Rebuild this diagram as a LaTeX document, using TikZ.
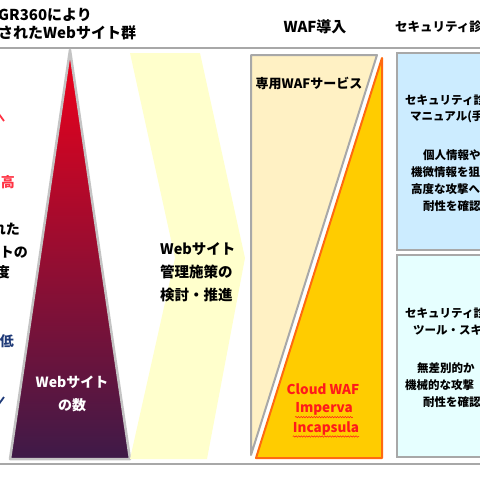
\documentclass[tikz,border=0pt]{standalone}
\usepackage{fontspec}
\setmainfont{Noto Sans CJK JP}
\usetikzlibrary{decorations.pathmorphing}
\definecolor{rulegray}{HTML}{A8A8A8}
\definecolor{edgegray}{HTML}{C4C4C4}
\definecolor{topred}{HTML}{F0001A}
\definecolor{midred}{HTML}{A80C2C}
\definecolor{lowpurple}{HTML}{3E1A48}
\definecolor{palechev}{HTML}{FFFFCC}
\definecolor{palewaf}{HTML}{FFF1C4}
\definecolor{goldwaf}{HTML}{FFCC00}
\definecolor{orangeedge}{HTML}{FF6A10}
\definecolor{skyblue}{HTML}{CCECFF}
\definecolor{iceblue}{HTML}{E6FFFF}
\definecolor{textred}{HTML}{FF1A1A}
\definecolor{levelred}{HTML}{FF3344}
\definecolor{levelblue}{HTML}{1F3A78}

\begin{document}
\begin{tikzpicture}[
  x=1pt,y=-1pt,
  every node/.style={inner sep=0pt,align=left},
  headtxt/.style={font=\bfseries\fontsize{15}{18}\selectfont},
  sidetxt/.style={font=\bfseries\fontsize{14}{18}\selectfont,anchor=east},
  chevtxt/.style={font=\bfseries\fontsize{14.5}{23}\selectfont,anchor=west},
  waftxt/.style={font=\bfseries\fontsize{13.5}{18}\selectfont,color=textred},
  boxtxt/.style={font=\bfseries\fontsize{11.5}{17}\selectfont,anchor=west},
  rule/.style={draw=rulegray,line width=2pt},
  panel/.style={draw=rulegray,line width=2pt},
  squiggle/.style={draw=textred,line width=0.5pt,decorate,decoration={snake,amplitude=0.7pt,segment length=2.6pt}}
]
\useasboundingbox (0,0) rectangle (480,480);
\draw[rule] (0,47.5) -- (480,47.5);
\draw[rule] (0,464) -- (480,464);

% Webサイト群の三角形
\shade[top color=topred,middle color=midred,bottom color=lowpurple]
  (70,50) -- (130,459) -- (10,459) -- cycle;
\draw[draw=edgegray,line width=2.5pt,line join=round] (70,50) -- (130,459) -- (10,459) -- cycle;
\node[font=\bfseries\fontsize{14}{23}\selectfont,text=white,align=center] (sitecount) at (72,394) {Webサイト\\の数};

% 左端の矢印と目盛り
\draw[draw=levelred,line width=1.8pt] (-12,126) -- (-4,110) -- (4,121);
\draw[draw=levelblue,line width=1.8pt] (-12,392) -- (-4,408) -- (4,397);
\node[sidetxt,text=levelred] (levelhigh) at (15,182) {高};
\node[sidetxt] (linea) at (20,229) {れた};
\node[sidetxt] (lineb) at (28,252) {イトの};
\node[sidetxt] (linec) at (10,272) {度};
\node[sidetxt,text=levelblue] (levellow) at (14,341) {低};

% 施策の矢羽
\fill[palechev] (130,53) -- (200,53) -- (245,258) -- (207,459) -- (130,459) -- (175,258) -- cycle;
\node[chevtxt] (policy) at (160,272) {Webサイト\\管理施策の\\検討・推進};

% WAF導入
\filldraw[panel,fill=palewaf,line join=round] (251,55) -- (377,55) -- (251,455) -- cycle;
\filldraw[draw=orangeedge,line width=2pt,fill=goldwaf,line join=round] (382,58) -- (382,458) -- (256,458) -- cycle;
\node[font=\bfseries\fontsize{13}{17}\selectfont] (dedicated) at (309,83) {専用WAFサービス};
\node[waftxt] (cloudwaf) at (323,389) {Cloud WAF};
\node[waftxt] (imperva) at (324,409) {Imperva};
\node[waftxt] (incapsula) at (326,428) {Incapsula};
\draw[squiggle] ([yshift=-1.5pt]imperva.south west) -- ([yshift=-1.5pt]imperva.south east);
\draw[squiggle] ([yshift=-1.5pt]incapsula.south west) -- ([yshift=-1.5pt]incapsula.south east);

% セキュリティ診断
\filldraw[panel,fill=skyblue] (397,53) rectangle (486,250);
\filldraw[panel,fill=iceblue] (397,255) rectangle (486,457);
\node[boxtxt] (manualhd) at (405,100) {セキュリティ診};
\node[boxtxt] (manualsub) at (410,117) {マニュアル(手};
\node[boxtxt] (manuala) at (423,155) {個人情報や};
\node[boxtxt] (manualb) at (411,172) {機微情報を狙};
\node[boxtxt] (manualc) at (411,189) {高度な攻撃へ};
\node[boxtxt] (manuald) at (423,206) {耐性を確認};
\node[boxtxt] (toolhd) at (405,313) {セキュリティ診};
\node[boxtxt] (toolsub) at (413,330) {ツール・スキャ};
\node[boxtxt] (toola) at (417,368) {無差別的か};
\node[boxtxt] (toolb) at (405,385) {機械的な攻撃};
\node[boxtxt] (toolc) at (423,402) {耐性を確認};

% 見出し
\node[headtxt,anchor=west] (hdrsites) at (-2,24) {GR360により\\されたWebサイト群};
\node[headtxt] (hdrwaf) at (315,27) {WAF導入};
\node[headtxt,anchor=west,font=\bfseries\fontsize{12.5}{18}\selectfont] (hdrdiag) at (395,27) {セキュリティ診};
\end{tikzpicture}
\end{document}
